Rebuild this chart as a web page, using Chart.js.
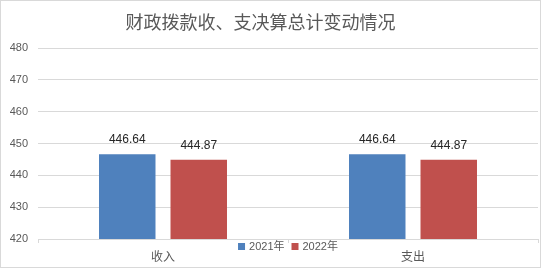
<!DOCTYPE html>
<html>
<head>
<meta charset="utf-8">
<script src="https://cdn.jsdelivr.net/npm/chart.js@4"></script>
<style>
  html, body { margin: 0; padding: 0; background: #fff; }
  #wrap { width: 541px; height: 268px; box-sizing: border-box; border: 1px solid #d9d9d9; }
</style>
</head>
<body>
<div id="wrap"><canvas id="chart" width="539" height="266"></canvas></div>
<script>
const chartTitle = "财政拨款收、支决算总计变动情况";
const categories = ["收入", "支出"];
const seriesNames = ["2021年", "2022年"];
const values2021 = [446.64, 446.64];
const values2022 = [444.87, 444.87];
const yTicks = [420, 430, 440, 450, 460, 470, 480];

const FONT = "'Liberation Sans', 'Noto Sans CJK SC', sans-serif";

// title drawn by hand: it sits a bit left of centre in the original
const topTitle = {
  id: "topTitle",
  afterDraw(chart) {
    const ctx = chart.ctx;
    ctx.save();
    ctx.font = "18px 'Noto Sans CJK SC', sans-serif";
    ctx.fillStyle = "#595959";
    ctx.textAlign = "center";
    ctx.textBaseline = "middle";
    ctx.fillText(chartTitle, 259.5, 21);
    ctx.restore();
  }
};

// value labels above each bar
const barLabels = {
  id: "barLabels",
  afterDatasetsDraw(chart) {
    const ctx = chart.ctx;
    ctx.save();
    ctx.font = "12px " + FONT;
    ctx.fillStyle = "#262626";
    ctx.textAlign = "center";
    ctx.textBaseline = "alphabetic";
    chart.data.datasets.forEach((ds, i) => {
      chart.getDatasetMeta(i).data.forEach((bar, j) => {
        ctx.fillText(ds.data[j].toFixed(2), bar.x, bar.y - 11);
      });
    });
    ctx.restore();
  }
};

// small legend sitting just under the axis, between the categories
const bottomLegend = {
  id: "bottomLegend",
  afterDraw(chart) {
    const ctx = chart.ctx;
    ctx.save();
    ctx.font = "11px " + FONT;
    ctx.textBaseline = "middle";
    const box = 7, gap = 4, sep = 7;
    const items = chart.data.datasets.map(ds => ({
      text: ds.label, color: ds.backgroundColor, w: ctx.measureText(ds.label).width
    }));
    let total = 0;
    items.forEach((it, i) => { total += box + gap + it.w + (i ? sep : 0); });
    let x = (chart.chartArea.left + chart.chartArea.right) / 2 - total / 2;
    const y = 245.5;
    items.forEach((it, i) => {
      if (i) x += sep;
      ctx.fillStyle = it.color;
      ctx.fillRect(x, y - box / 2, box, box);
      x += box + gap;
      ctx.fillStyle = "#595959";
      ctx.fillText(it.text, x, y);
      x += it.w;
    });
    ctx.restore();
  }
};

new Chart(document.getElementById("chart"), {
  type: "bar",
  data: {
    labels: categories,
    datasets: [
      { label: seriesNames[0], data: values2021, backgroundColor: "#4f81bd" },
      { label: seriesNames[1], data: values2022, backgroundColor: "#c0504d" }
    ]
  },
  options: {
    responsive: false,
    animation: false,
    categoryPercentage: 0.572,
    barPercentage: 0.79,
    layout: { padding: { left: 0, right: 2, top: 47, bottom: 0 } },
    plugins: {
      legend: { display: false },
      tooltip: { enabled: false },
      title: { display: false }
    },
    scales: {
      x: {
        grid: { drawOnChartArea: false, drawTicks: true, tickLength: 4, color: "#d9d9d9" },
        border: { color: "#d9d9d9" },
        ticks: { color: "#595959", font: { family: FONT, size: 12 }, padding: 7 },
        afterFit(scale) { scale.height = 28; }
      },
      y: {
        min: yTicks[0],
        max: yTicks[yTicks.length - 1],
        afterBuildTicks(scale) { scale.ticks = yTicks.map(v => ({ value: v })); },
        grid: { color: "#d9d9d9", drawTicks: false },
        border: { display: false },
        ticks: { color: "#595959", font: { family: FONT, size: 11 }, padding: 10 },
        afterFit(scale) { scale.width = 37; }
      }
    }
  },
  plugins: [topTitle, barLabels, bottomLegend]
});
</script>
</body>
</html>
